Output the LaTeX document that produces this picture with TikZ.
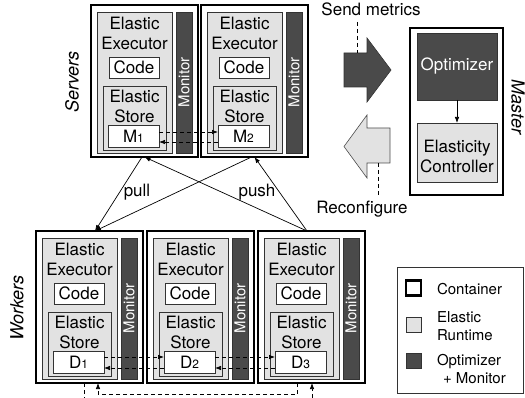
\documentclass[tikz,border=0pt]{standalone}
\usepackage{fontspec}
\setmainfont{TeX Gyre Heros}
\usetikzlibrary{arrows.meta,calc}
\definecolor{dk}{RGB}{74,74,74}
\definecolor{lt}{RGB}{226,226,226}
\newcommand\elunit[5]{%
  \node[ctr] (#1) at (#2,#3) {};
  \node[rt, minimum width=75pt, minimum height=141pt] (#1e) at ([shift={(43.5,77.5)}]#1.north west) {};
  \node[txt] (#1et) at ([shift={(43.5,28)}]#1.north west) {Elastic\\Executor};
  \node[wb, minimum width=50pt, minimum height=21pt, txt] (#1c) at ([shift={(43,62.5)}]#1.north west) {Code};
  \node[rt, minimum width=63pt, minimum height=64pt] (#1s) at ([shift={(43.5,113)}]#1.north west) {};
  \node[txt] (#1st) at ([shift={(43.5,101.5)}]#1.north west) {Elastic\\Store};
  \node[wb, minimum width=51pt, minimum height=22pt, txt] (#1m) at ([shift={(42.5,131)}]#1.north west) {#4{\fontsize{12}{12}\selectfont #5}};
  \node[mon] (#1n) at ([shift={(93,77.5)}]#1.north west) {};
  \node[mt] (#1nt) at (#1n) {Monitor};
}
\begin{document}
\begin{tikzpicture}[x=1pt,y=-1pt,
  every node/.style={inner sep=0pt, outer sep=0pt},
  ctr/.style={draw=black, line width=2.6pt, fill=white, minimum width=107pt, minimum height=152pt, anchor=north west},
  rt/.style={draw=black!80, line width=0.8pt, fill=lt},
  wb/.style={draw=black!80, line width=0.8pt, fill=white},
  mon/.style={draw=black!80, line width=0.8pt, fill=dk, minimum width=16pt, minimum height=141pt},
  mt/.style={text=white, rotate=90, font=\fontsize{15}{15}\selectfont},
  txt/.style={align=center, font=\fontsize{17}{20}\selectfont},
  lgt/.style={align=left, anchor=west, font=\fontsize{15}{18}\selectfont},
  side/.style={font=\itshape\fontsize{18}{18}\selectfont},
  dl/.style={line width=0.7pt, dash pattern=on 4pt off 3pt},
  tip/.style={-{Latex[length=6pt,width=4.5pt]}},
  ln/.style={line width=0.7pt}
]
\useasboundingbox (0,0) rectangle (525,398);

% servers and workers
\elunit{s1}{91}{5}{M}{1}
\elunit{s2}{201}{5}{M}{2}
\elunit{w1}{36}{231}{D}{1}
\elunit{w2}{147}{231}{D}{2}
\elunit{w3}{258}{231}{D}{3}

% side labels
\node[side, rotate=90] (srv) at (72,82) {Servers};
\node[side, rotate=90] (wrk) at (17,308) {Workers};
\node[side, rotate=-90] (mst) at (518,107) {Master};

% store replication
\draw[dl,tip] ([yshift=-7pt]s1m.north east) -- ([yshift=-7pt]s2m.north west);
\draw[dl,tip] ([yshift=5pt]s2m.south west) -- ([yshift=5pt]s1m.south east);
\draw[dl,tip] ([yshift=-6pt]w1m.north east) -- ([yshift=-6pt]w2m.north west);
\draw[dl,tip] ([yshift=5pt]w2m.south west) -- ([yshift=5pt]w1m.south east);
\draw[dl,tip] ([yshift=-6pt]w2m.north east) -- ([yshift=-6pt]w3m.north west);
\draw[dl,tip] ([yshift=5pt]w3m.south west) -- ([yshift=5pt]w2m.south east);

% wrap-around between D1 and D3
\coordinate (w1out) at ([xshift=-5.5pt,yshift=-15pt]w1.south);
\coordinate (w3in) at ([xshift=0.5pt,yshift=-15pt]w3.south);
\draw[dl] ([xshift=-5.5pt]w1.south) -- (w1out);
\draw[dl,tip] (w3in) -- ([xshift=0.5pt]w3.south);
\draw[dl,tip] ([xshift=-14.5pt]w3.south) |- ([xshift=8.5pt,yshift=-11.5pt]w1.south) -- ([xshift=8.5pt]w1.south);

% pull / push
\draw[ln,tip] ([xshift=-2.5pt]s1.south) -- ([xshift=5.5pt]w1.north);
\draw[ln,tip] ([xshift=-3pt]s2.south) -- ([xshift=5.5pt]w1.north);
\draw[ln,tip] ([xshift=-4.5pt]w3.north) -- (s1.south);
\draw[ln,tip] ([xshift=-4.5pt]w3.north) -- (s2.south);
\node[txt] (pull) at (137,192) {pull};
\node[txt] (push) at (257,192) {push};

% master
\node[ctr, minimum width=93pt, minimum height=167pt] (ms) at (410,28) {};
\node[draw=black!80, line width=0.8pt, fill=dk, text=white, txt, minimum width=80pt, minimum height=67pt] (opt) at (457,66.5) {Optimizer};
\node[rt, minimum width=80pt, minimum height=59pt] (ec) at (457,152.5) {};
\node[txt] (ect) at (457,156) {Elasticity\\Controller};
\draw[ln,tip] (opt) -- (ec);

% big arrows
\draw[draw=black!80, line width=0.6pt, fill=dk] (344,53) -- (367,53) -- (367,38) -- (391,70) -- (367,102) -- (367,87) -- (344,87) -- cycle;
\draw[draw=black!70, line width=0.6pt, fill=lt] (344,146.5) -- (367,115) -- (367,128) -- (390,128) -- (390,163) -- (367,163) -- (367,178) -- cycle;
\node[txt] (sm) at (371,9) {Send metrics};
\node[txt] (rc) at (362,209) {Reconfigure};
\coordinate (smA) at (357,53);
\coordinate (smB) at (357,22);
\coordinate (rcA) at (378,163);
\coordinate (rcB) at (378,196);
\draw[dl] (smB) -- (smA);
\draw[dl] (rcA) -- (rcB);

% legend
\node[draw=black!80, line width=0.8pt, minimum width=126pt, minimum height=126pt, anchor=north west] (lg) at (397,267) {};
\node[draw=black, line width=2.2pt, fill=white, minimum size=15pt] (lc) at (413.5,288) {};
\node[lgt] (lct) at (437,289) {Container};
\node[rt, minimum size=15pt] (lr) at (413.5,324.5) {};
\node[lgt] (lrt) at (437,326) {Elastic\\Runtime};
\node[draw=black!80, line width=0.8pt, fill=dk, minimum size=15pt] (lo) at (413.5,360.5) {};
\node[lgt] (lot) at (437,369) {Optimizer\\\hspace*{6pt}+ Monitor};
\end{tikzpicture}
\end{document}
